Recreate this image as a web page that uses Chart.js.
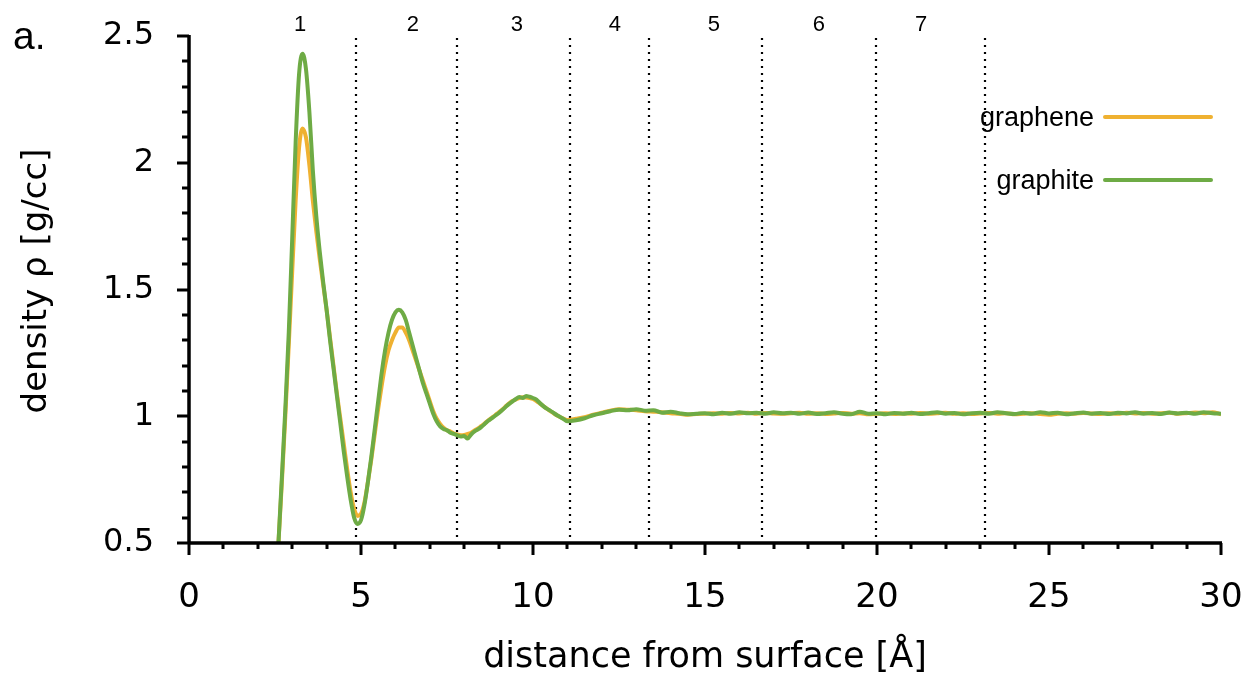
<!DOCTYPE html>
<html lang="en">
<head>
    <meta charset="UTF-8">
    <title>Density profile</title>
    <script src="https://cdn.jsdelivr.net/npm/chart.js"></script>
    <style>
        html, body { margin: 0; padding: 0; background: #fff; }
        #wrap { width: 1252px; height: 676px; }
    </style>
</head>
<body>
    <div id="wrap"><canvas id="densityChart" width="1252" height="676"></canvas></div>

    <script>
        // distance from surface [Å]
        const distance = [
            2.6,2.7,2.8,2.9,3.0,3.1,3.2,3.3,3.4,3.5,
            3.6,3.7,3.8,3.9,4.0,4.1,4.2,4.3,4.4,4.5,
            4.6,4.7,4.8,4.9,5.0,5.1,5.2,5.3,5.4,5.5,
            5.6,5.7,5.8,5.9,6.0,6.1,6.2,6.3,6.4,6.5,
            6.6,6.7,6.8,6.9,7.0,7.1,7.2,7.3,7.4,7.5,
            7.6,7.7,7.8,7.9,8.0,8.1,8.2,8.3,8.4,8.5,
            8.6,8.7,8.8,8.9,9.0,9.1,9.2,9.3,9.4,9.5,
            9.6,9.7,9.8,9.9,10.0,10.1,10.2,10.3,10.4,10.5,
            10.6,10.7,10.8,10.9,11.0,
            11.25,11.5,11.75,12.0,12.25,12.5,12.75,13.0,13.25,13.5,
            13.75,14.0,14.25,14.5,14.75,15.0,15.25,15.5,15.75,16.0,
            16.25,16.5,16.75,17.0,17.25,17.5,17.75,18.0,18.25,18.5,
            18.75,19.0,19.25,19.5,19.75,20.0,20.25,20.5,20.75,21.0,
            21.25,21.5,21.75,22.0,22.25,22.5,22.75,23.0,23.25,23.5,
            23.75,24.0,24.25,24.5,24.75,25.0,25.25,25.5,25.75,26.0,
            26.25,26.5,26.75,27.0,27.25,27.5,27.75,28.0,28.25,28.5,
            28.75,29.0,29.25,29.5,29.75,30.0
        ];

        const graphene = [
            0.50,0.74,1.00,1.28,1.57,1.85,2.06,2.135,2.10,1.99,
            1.85,1.73,1.62,1.52,1.42,1.31,1.20,1.09,0.99,0.89,
            0.79,0.70,0.635,0.607,0.615,0.66,0.74,0.83,0.93,1.03,
            1.12,1.20,1.26,1.30,1.33,1.35,1.35,1.33,1.30,1.26,
            1.22,1.18,1.14,1.10,1.06,1.02,0.99,0.97,0.955,0.945,
            0.94,0.932,0.928,0.925,0.926,0.93,0.935,0.944,0.952,0.962,
            0.972,0.984,0.994,1.004,1.015,1.026,1.038,1.05,1.06,1.066,
            1.072,1.075,1.074,1.072,1.068,1.06,1.05,1.04,1.03,1.02,
            1.012,1.003,0.996,0.99,0.985,
            0.99,0.996,1.006,1.014,1.022,1.028,1.026,1.024,1.02,1.018,
            1.016,1.012,1.01,1.006,1.009,1.01,1.012,1.01,1.013,1.011,
            1.014,1.01,1.013,1.011,1.01,1.012,1.014,1.01,1.012,1.009,
            1.011,1.013,1.01,1.012,1.008,1.01,1.012,1.009,1.011,1.01,
            1.013,1.01,1.012,1.014,1.01,1.012,1.009,1.011,1.013,1.01,
            1.012,1.008,1.01,1.012,1.009,1.006,1.01,1.012,1.01,1.013,
            1.011,1.009,1.012,1.01,1.014,1.011,1.013,1.01,1.012,1.014,
            1.01,1.012,1.015,1.012,1.016,1.008
        ];

        const graphite = [
            0.50,0.76,1.03,1.33,1.70,2.08,2.35,2.43,2.37,2.20,
            1.97,1.79,1.65,1.53,1.42,1.30,1.19,1.08,0.97,0.86,
            0.76,0.67,0.60,0.575,0.59,0.65,0.74,0.84,0.95,1.06,
            1.17,1.26,1.33,1.38,1.41,1.42,1.41,1.38,1.33,1.28,
            1.23,1.18,1.13,1.09,1.05,1.01,0.98,0.96,0.95,0.945,
            0.935,0.93,0.925,0.92,0.922,0.912,0.928,0.94,0.948,0.958,
            0.97,0.982,0.992,1.002,1.012,1.024,1.036,1.048,1.058,1.068,
            1.076,1.072,1.08,1.077,1.072,1.066,1.052,1.04,1.03,1.022,
            1.013,1.004,0.996,0.988,0.98,
            0.984,0.992,1.004,1.012,1.02,1.026,1.024,1.028,1.022,1.024,
            1.014,1.018,1.012,1.008,1.01,1.012,1.008,1.014,1.01,1.016,
            1.012,1.014,1.01,1.016,1.012,1.014,1.01,1.015,1.009,1.012,
            1.016,1.01,1.008,1.018,1.01,1.012,1.008,1.013,1.01,1.014,
            1.009,1.012,1.016,1.01,1.013,1.008,1.012,1.014,1.01,1.016,
            1.012,1.009,1.014,1.01,1.016,1.011,1.014,1.008,1.012,1.015,
            1.01,1.013,1.009,1.014,1.011,1.016,1.01,1.013,1.009,1.015,
            1.011,1.014,1.01,1.016,1.012,1.01
        ];

        // layer boundaries (dotted lines) and layer numbers
        const boundaries = [4.85, 7.78, 11.07, 13.37, 16.65, 19.97, 23.13];
        const layerNames = ['1', '2', '3', '4', '5', '6', '7'];
        const layerLabelX = [3.23, 6.51, 9.53, 12.38, 15.26, 18.31, 21.28];

        const seriesNames = ['graphene', 'graphite'];
        const seriesColors = ['#efb131', '#6eab45'];

        const tickFont = '"DejaVu Sans", sans-serif';
        const textFont = '"Liberation Sans", Arial, sans-serif';

        const toPoints = ys => ys.map((y, i) => ({ x: distance[i], y: y }));

        const decor = {
            id: 'decor',
            beforeDatasetsDraw(chart) {
                const ctx = chart.ctx;
                const xs = chart.scales.x;
                const area = chart.chartArea;
                ctx.save();
                ctx.strokeStyle = '#000';
                ctx.lineWidth = 2.2;
                ctx.setLineDash([2, 5]);
                boundaries.forEach(b => {
                    const px = Math.round(xs.getPixelForValue(b));
                    ctx.beginPath();
                    ctx.moveTo(px, area.top + 2);
                    ctx.lineTo(px, area.bottom);
                    ctx.stroke();
                });
                ctx.restore();
            },
            afterDatasetsDraw(chart) {
                const ctx = chart.ctx;
                const xs = chart.scales.x;
                const ys = chart.scales.y;
                const area = chart.chartArea;
                ctx.save();

                // axes
                ctx.strokeStyle = '#000';
                ctx.lineWidth = 3.5;
                ctx.beginPath();
                ctx.moveTo(area.left, area.top - 1);
                ctx.lineTo(area.left, area.bottom + 1);
                ctx.moveTo(area.left - 1, area.bottom);
                ctx.lineTo(area.right + 1, area.bottom);
                ctx.stroke();

                // ticks
                ctx.lineWidth = 3;
                ctx.beginPath();
                for (let i = 0; i <= 20; i++) {
                    const v = 0.5 + i * 0.1;
                    const py = Math.round(ys.getPixelForValue(v));
                    const len = (i % 5 === 0) ? 12 : 7;
                    ctx.moveTo(area.left, py);
                    ctx.lineTo(area.left - len, py);
                }
                for (let i = 0; i <= 30; i++) {
                    const px = Math.round(xs.getPixelForValue(i));
                    const len = (i % 5 === 0) ? 12 : 6;
                    ctx.moveTo(px, area.bottom);
                    ctx.lineTo(px, area.bottom + len);
                }
                ctx.stroke();

                // y title
                ctx.fillStyle = '#000';
                ctx.save();
                ctx.translate(37, 281);
                ctx.rotate(-Math.PI / 2);
                ctx.font = '34px ' + tickFont;
                ctx.textAlign = 'center';
                ctx.textBaseline = 'middle';
                ctx.fillText('density ρ [g/cc]', 0, 0);
                ctx.restore();

                // layer numbers
                ctx.font = '22px ' + textFont;
                ctx.textAlign = 'center';
                ctx.textBaseline = 'middle';
                layerNames.forEach((n, i) => {
                    ctx.fillText(n, xs.getPixelForValue(layerLabelX[i]), 25);
                });

                // legend
                ctx.font = '27px ' + textFont;
                ctx.textAlign = 'right';
                ctx.textBaseline = 'alphabetic';
                const legY = [117, 180];
                seriesNames.forEach((n, i) => {
                    ctx.fillStyle = '#000';
                    ctx.fillText(n, 1094, legY[i] + 9);
                    ctx.strokeStyle = seriesColors[i];
                    ctx.lineWidth = 4;
                    ctx.lineCap = 'round';
                    ctx.beginPath();
                    ctx.moveTo(1105, legY[i]);
                    ctx.lineTo(1211, legY[i]);
                    ctx.stroke();
                });

                // panel label
                ctx.fillStyle = '#000';
                ctx.font = '39px ' + textFont;
                ctx.textAlign = 'left';
                ctx.fillText('a.', 13, 49);

                ctx.restore();
            }
        };

        const ctx = document.getElementById('densityChart').getContext('2d');
        new Chart(ctx, {
            type: 'line',
            data: {
                datasets: [{
                    label: seriesNames[1],
                    data: toPoints(graphite),
                    borderColor: seriesColors[1],
                    borderWidth: 4,
                    pointRadius: 0,
                    fill: false,
                    cubicInterpolationMode: 'monotone',
                    order: 1
                }, {
                    label: seriesNames[0],
                    data: toPoints(graphene),
                    borderColor: seriesColors[0],
                    borderWidth: 4,
                    pointRadius: 0,
                    fill: false,
                    cubicInterpolationMode: 'monotone',
                    order: 2
                }]
            },
            options: {
                responsive: false,
                animation: false,
                events: [],
                layout: { padding: { top: 36, right: 31, left: 0, bottom: 0 } },
                plugins: {
                    legend: { display: false },
                    tooltip: { enabled: false }
                },
                scales: {
                    x: {
                        type: 'linear',
                        position: 'bottom',
                        min: 0,
                        max: 30,
                        grid: { display: false, drawTicks: false },
                        border: { display: false },
                        ticks: {
                            stepSize: 5,
                            padding: 35,
                            color: '#000',
                            font: { family: tickFont, size: 34 },
                            maxRotation: 0,
                            callback: v => String(v)
                        },
                        title: {
                            display: true,
                            text: 'distance from surface [Å]',
                            color: '#000',
                            font: { family: tickFont, size: 35, lineHeight: 1 },
                            padding: { top: 0, bottom: 1 }
                        },
                        afterFit: s => {
                            s.height = 133;
                            s.paddingLeft = 0;
                            s.paddingRight = 0;
                        }
                    },
                    y: {
                        min: 0.5,
                        max: 2.5,
                        grid: { display: false, drawTicks: false },
                        border: { display: false },
                        ticks: {
                            stepSize: 0.5,
                            padding: 35,
                            color: '#000',
                            font: { family: tickFont, size: 32 },
                            callback: v => String(+v.toFixed(1))
                        },
                        afterFit: s => {
                            s.width = 189;
                            s.paddingTop = 0;
                            s.paddingBottom = 0;
                        }
                    }
                }
            },
            plugins: [decor]
        });
    </script>
</body>
</html>
